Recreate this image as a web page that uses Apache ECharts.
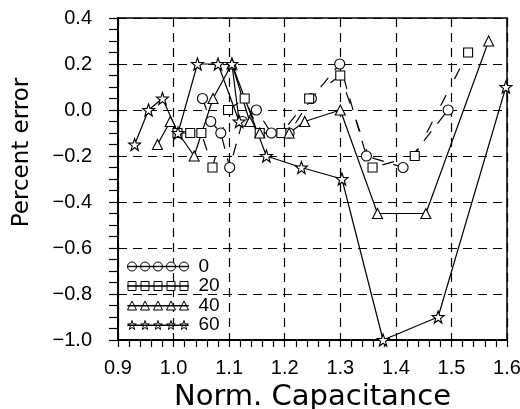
<!DOCTYPE html>
<html>
<head>
<meta charset="utf-8">
<script src="https://cdn.jsdelivr.net/npm/echarts@6/dist/echarts.min.js"></script>
<style>
  html, body { margin: 0; padding: 0; background: #fff; }
  #chart { width: 520px; height: 409px; }
</style>
</head>
<body>
<div id="chart"></div>
<script>
// values, [norm. capacitance, percent error]
const seriesNames = ['0', '20', '40', '60'];

const circles0 = [
  [1.052, 0.05], [1.067, -0.05], [1.085, -0.10], [1.101, -0.25], [1.124, -0.05],
  [1.149, 0.00], [1.176, -0.10], [1.208, -0.10], [1.248, 0.05], [1.299, 0.20],
  [1.347, -0.20], [1.413, -0.25], [1.494, 0.00]
];
const squares20 = [
  [1.007, -0.10], [1.030, -0.10], [1.050, -0.10], [1.070, -0.25], [1.098, 0.00],
  [1.128, 0.05], [1.155, -0.10], [1.194, -0.10], [1.244, 0.05], [1.300, 0.15],
  [1.358, -0.25], [1.434, -0.20], [1.530, 0.25]
];
const triangles40 = [
  [0.971, -0.15], [0.994, -0.05], [1.037, -0.20], [1.071, 0.05], [1.105, 0.20],
  [1.137, -0.05], [1.155, -0.10], [1.208, -0.10], [1.236, -0.05], [1.300, 0.00],
  [1.367, -0.45], [1.454, -0.45], [1.567, 0.30]
];
const stars60 = [
  [0.930, -0.15], [0.955, 0.00], [0.980, 0.05], [1.008, -0.10], [1.043, 0.20],
  [1.080, 0.20], [1.118, -0.05], [1.105, 0.20], [1.167, -0.20], [1.230, -0.25],
  [1.303, -0.30], [1.377, -1.00], [1.476, -0.90], [1.598, 0.10]
];

const xTicks = { min: 0.9, max: 1.6, step: 0.1 };
const yTicks = { min: -1.0, max: 0.4, step: 0.2 };

const starPath = 'path://M0,-10L2.35,-3.24L9.51,-3.09L3.8,1.24L5.88,8.09L0,4L-5.88,8.09L-3.8,1.24L-9.51,-3.09L-2.35,-3.24Z';

// legend glyph: five markers on a line, 61 x 9
function legendIcon(kind) {
  let p = 'path://M0,4.3L61,4.3L61,4.7L0,4.7Z';
  for (let i = 0; i < 5; i++) {
    const cx = 4.5 + i * 13;
    if (kind === 'circle') {
      p += 'M' + (cx - 4.5) + ',4.5A4.5,4.5,0,1,0,' + (cx + 4.5) + ',4.5A4.5,4.5,0,1,0,' + (cx - 4.5) + ',4.5Z';
    } else if (kind === 'rect') {
      p += 'M' + (cx - 4) + ',0.5L' + (cx + 4) + ',0.5L' + (cx + 4) + ',8.5L' + (cx - 4) + ',8.5Z';
    } else if (kind === 'triangle') {
      p += 'M' + cx + ',0L' + (cx + 4.5) + ',8.5L' + (cx - 4.5) + ',8.5Z';
    } else {
      const r = 4.5, q = 1.8;
      let s = '';
      for (let k = 0; k < 10; k++) {
        const a = -Math.PI / 2 + k * Math.PI / 5;
        const rr = k % 2 === 0 ? r : q;
        s += (k === 0 ? 'M' : 'L') + (cx + rr * Math.cos(a)).toFixed(2) + ',' + (4.7 + rr * Math.sin(a)).toFixed(2);
      }
      p += s + 'Z';
    }
  }
  return p;
}

const chart = echarts.init(document.getElementById('chart'), null, { renderer: 'canvas' });

const minus = v => v.toFixed(1).replace('-', '\u2212');

function makeSeries(name, data, symbol, size, dash) {
  return {
    name: name,
    type: 'line',
    data: data,
    symbol: symbol,
    symbolSize: size,
    itemStyle: { color: '#fff', borderColor: '#000', borderWidth: 1.1 },
    lineStyle: { color: '#000', width: 1.2, type: dash },
    emphasis: { disabled: true },
    z: 3
  };
}

const option = {
  animation: false,
  backgroundColor: '#fff',
  grid: {
    left: 118, right: 13, top: 18, bottom: 69,
    outerBoundsMode: 'none',
    containLabel: false,
    show: true, borderColor: '#000', borderWidth: 1.5
  },
  legend: {
    orient: 'vertical',
    left: 127,
    top: 257,
    padding: 0,
    itemWidth: 61,
    itemHeight: 9,
    itemGap: 0.5,
    symbolKeepAspect: false,
    selectedMode: false,
    itemStyle: { color: '#fff', borderColor: '#000', borderWidth: 1 },
    textStyle: { fontFamily: 'Liberation Sans', fontSize: 19, color: '#000', padding: [0, 0, 0, 5] },
    data: [
      { name: '0', icon: legendIcon('circle') },
      { name: '20', icon: legendIcon('rect') },
      { name: '40', icon: legendIcon('triangle') },
      { name: '60', icon: legendIcon('star') }
    ]
  },
  xAxis: {
    type: 'value',
    min: xTicks.min,
    max: xTicks.max,
    interval: xTicks.step,
    name: 'Norm. Capacitance',
    nameLocation: 'middle',
    nameGap: 36,
    nameTextStyle: { fontFamily: 'DejaVu Sans', fontSize: 29, color: '#000' },
    axisLine: { onZero: false, lineStyle: { color: '#000', width: 2 } },
    axisTick: { length: 7, lineStyle: { color: '#000', width: 1.2 } },
    minorTick: { show: true, splitNumber: 5, length: 7, lineStyle: { color: '#000', width: 1.2 } },
    axisLabel: { margin: 18, fontFamily: 'Liberation Sans', fontSize: 20, color: '#000', formatter: minus },
    splitLine: { show: true, lineStyle: { color: '#000', width: 1.2, type: [9, 6] } }
  },
  yAxis: {
    type: 'value',
    min: yTicks.min,
    max: yTicks.max,
    interval: yTicks.step,
    name: 'Percent error',
    nameLocation: 'middle',
    nameGap: 84,
    nameTextStyle: { fontFamily: 'DejaVu Sans', fontSize: 23, color: '#000', padding: [0, 0, 0, 53] },
    axisLine: { onZero: false, lineStyle: { color: '#000', width: 2 } },
    axisTick: { length: 9, lineStyle: { color: '#000', width: 1.2 } },
    minorTick: { show: true, splitNumber: 4, length: 9, lineStyle: { color: '#000', width: 1.2 } },
    axisLabel: { margin: 26, fontFamily: 'Liberation Sans', fontSize: 20, color: '#000', formatter: minus },
    splitLine: { show: true, lineStyle: { color: '#000', width: 1.2, type: [9, 6] } }
  },
  series: [
    makeSeries(seriesNames[0], circles0, 'circle', 10, [12, 10]),
    makeSeries(seriesNames[1], squares20, 'rect', 9, [12, 18]),
    makeSeries(seriesNames[2], triangles40, 'triangle', 10, 'solid'),
    makeSeries(seriesNames[3], stars60, starPath, 12, 'solid')
  ]
};

chart.setOption(option);
</script>
</body>
</html>
